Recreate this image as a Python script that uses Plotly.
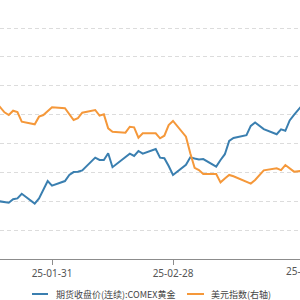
import plotly.graph_objects as go

gold_dates = ["2025-01-17", "2025-01-21", "2025-01-22", "2025-01-23", "2025-01-24",
              "2025-01-27", "2025-01-28", "2025-01-29", "2025-01-30", "2025-01-31",
              "2025-02-03", "2025-02-04", "2025-02-05", "2025-02-06", "2025-02-07",
              "2025-02-10", "2025-02-11", "2025-02-12", "2025-02-13", "2025-02-14",
              "2025-02-18", "2025-02-19", "2025-02-20", "2025-02-21",
              "2025-02-24", "2025-02-25", "2025-02-26", "2025-02-27", "2025-02-28",
              "2025-03-03", "2025-03-04", "2025-03-05", "2025-03-06", "2025-03-07",
              "2025-03-10", "2025-03-11", "2025-03-12", "2025-03-13", "2025-03-14",
              "2025-03-17", "2025-03-18", "2025-03-19", "2025-03-20", "2025-03-21",
              "2025-03-24", "2025-03-25", "2025-03-26", "2025-03-27", "2025-03-28",
              "2025-03-31"]
gold_values = [2754, 2745, 2757, 2760, 2776,
               2742, 2760, 2789, 2820, 2804,
               2820, 2841, 2851, 2852, 2857,
               2901, 2893, 2893, 2916, 2868,
               2915, 2907, 2924, 2915,
               2931, 2901, 2899, 2872, 2841,
               2876, 2902, 2898, 2895, 2896,
               2870, 2893, 2913, 2959, 2969,
               2979, 3011, 3023, 3012, 3000,
               2982, 2999, 2994, 3030, 3049,
               3103]

usd_dates = ["2025-01-17", "2025-01-20", "2025-01-21", "2025-01-22", "2025-01-23", "2025-01-24",
             "2025-01-27", "2025-01-28", "2025-01-29", "2025-01-30", "2025-01-31",
             "2025-02-03", "2025-02-04", "2025-02-05", "2025-02-06", "2025-02-07",
             "2025-02-10", "2025-02-11", "2025-02-12", "2025-02-13", "2025-02-14",
             "2025-02-17", "2025-02-18", "2025-02-19", "2025-02-20", "2025-02-21",
             "2025-02-24", "2025-02-25", "2025-02-26", "2025-02-27", "2025-02-28",
             "2025-03-03", "2025-03-04", "2025-03-05", "2025-03-06", "2025-03-07",
             "2025-03-10", "2025-03-11", "2025-03-12", "2025-03-13", "2025-03-14",
             "2025-03-17", "2025-03-18", "2025-03-19", "2025-03-20", "2025-03-21",
             "2025-03-24", "2025-03-25", "2025-03-26", "2025-03-27", "2025-03-28",
             "2025-03-31"]
usd_values = [109.22, 108.16, 107.97, 108.27, 108.18, 107.51,
              107.33, 107.86, 107.97, 108.25, 108.51,
              108.44, 108.04, 107.63, 107.75, 108.13,
              108.32, 107.93, 108.02, 107.05, 106.82,
              106.75, 107.16, 107.12, 106.40, 106.71,
              106.71, 106.36, 106.54, 107.28, 107.56,
              106.47, 105.32, 104.32, 104.16, 103.89,
              103.89, 103.31, 103.58, 103.82, 103.73,
              103.37, 103.22, 103.47, 103.82, 104.14,
              104.28, 104.16, 104.51, 104.27, 104.05,
              104.13]

series_names = ["期货收盘价(连续):COMEX黄金", "美元指数(右轴)"]
x_ticks = ["2025-01-31", "2025-02-28", "2025-03-31"]
x_tick_labels = ["25-01-31", "25-02-28", "25-03-31"]

BLUE = "#3a7fb0"
ORANGE = "#f5983a"
TICK_FONT = dict(family="Noto Sans", size=10, color="#555555")

fig = go.Figure()
fig.add_trace(go.Scatter(x=gold_dates, y=gold_values, mode="lines", name=series_names[0],
                         line=dict(color=BLUE, width=2), yaxis="y"))
fig.add_trace(go.Scatter(x=usd_dates, y=usd_values, mode="lines", name=series_names[1],
                         line=dict(color=ORANGE, width=2), yaxis="y2"))

W, H = 300, 300
plot_h = 259
x_start, x_end = "2025-01-18 23:12", "2025-03-29 09:20"

fig.update_layout(
    width=W, height=H,
    margin=dict(l=0, r=0, t=0, b=H - plot_h, pad=0),
    paper_bgcolor="white", plot_bgcolor="white",
    showlegend=False,
    xaxis=dict(type="date", range=[x_start, x_end],
               tickvals=x_ticks, ticktext=x_tick_labels,
               showgrid=False, showline=True, linecolor="#8c8c8c", linewidth=1,
               ticks="outside", ticklen=5, tickcolor="#8c8c8c",
               tickfont=TICK_FONT, zeroline=False),
    yaxis=dict(range=[2550, 3447], dtick=100, tick0=2550, showticklabels=False,
               showgrid=True, gridcolor="#dcdcdc", gridwidth=1, griddash="4px,3px",
               zeroline=False, showline=False, ticks=""),
    yaxis2=dict(range=[98, 115.94], dtick=2, tick0=98, overlaying="y", side="right",
                showticklabels=False, showgrid=False, zeroline=False, showline=False, ticks=""),
)

# last tick label sits just past the visible edge (partly cut off, as in the original)
import pandas as pd
t0, t1 = pd.Timestamp(x_start), pd.Timestamp(x_end)
last_frac = (pd.Timestamp(x_ticks[-1]) - t0) / (t1 - t0)
fig.add_annotation(xref="paper", yref="paper", x=last_frac, y=(plot_h - 271) / plot_h,
                   xanchor="center", yanchor="middle", showarrow=False,
                   text=x_tick_labels[-1], font=TICK_FONT)

# custom legend
leg_y = (plot_h - 294) / plot_h
items = [(32, 48, 54, BLUE, series_names[0]), (187, 204, 209, ORANGE, series_names[1])]
for x0, x1, xt, col, name in items:
    fig.add_shape(type="line", xref="paper", yref="paper",
                  x0=x0 / W, x1=x1 / W, y0=leg_y, y1=leg_y,
                  line=dict(color=col, width=2))
    fig.add_annotation(xref="paper", yref="paper", x=xt / W, y=leg_y,
                       xanchor="left", yanchor="middle", showarrow=False,
                       text=name, font=dict(family="Noto Sans CJK SC", size=9, color="#444444"))

fig.write_html("out.html")
